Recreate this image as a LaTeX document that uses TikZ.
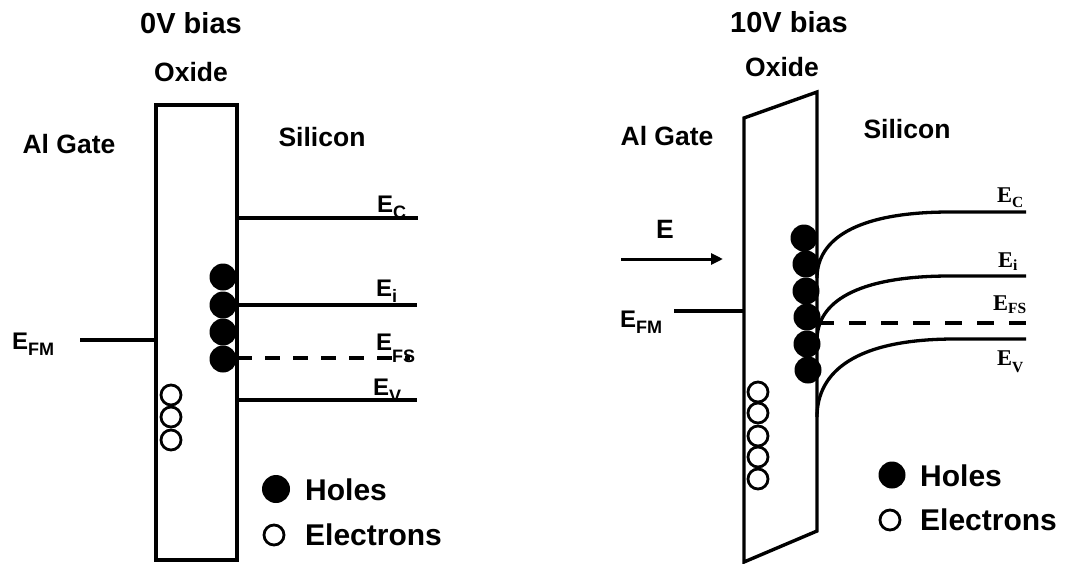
\documentclass[tikz,border=0pt]{standalone}
\usepackage{fontspec}
\setmainfont{Liberation Sans}
\newfontfamily\tnr{Liberation Serif}
\usetikzlibrary{arrows.meta}
\newcommand\esub[3]{E\raisebox{-#2pt}{\fontsize{#3}{#3}\selectfont #1}}
\begin{document}
\begin{tikzpicture}[x=1pt,y=-1pt,
  title/.style={font=\bfseries\fontsize{29}{30}\selectfont,anchor=base,inner sep=0},
  lbl/.style={font=\bfseries\fontsize{26.5}{28}\selectfont,anchor=base,inner sep=0},
  leg/.style={font=\bfseries\fontsize{30}{32}\selectfont,anchor=base west,inner sep=0},
  elbl/.style={font=\bfseries\fontsize{24}{26}\selectfont,anchor=base west,inner sep=0},
  tlbl/.style={font=\tnr\bfseries\fontsize{22.5}{24}\selectfont,anchor=base west,inner sep=0},
  oxide/.style={line width=4pt,line join=miter},
  level/.style={line width=3.3pt},
  hole/.style={fill=black,draw=none},
  electron/.style={draw=black,line width=2.8pt,fill=white}]
\useasboundingbox (0,0) rectangle (1066,563);
\fill[white] (0,0) rectangle (1066,563);

% ---------------- Left panel: 0V bias ----------------
\node[title] (t0) at (191,33) {0V bias};
\node[lbl] (ox0) at (191,81) {Oxide};
\node[lbl] (al0) at (69,153) {Al Gate};
\node[lbl] (si0) at (322,146) {Silicon};
\draw[oxide] (156,105) rectangle (237,560);
\draw[level] (237,218) -- (418,218);
\draw[level] (237,305) -- (417,305);
\draw[line width=4.5pt,dash pattern=on 15pt off 13pt] (237,358) -- (410,358);
\draw[level] (237,400) -- (417,400);
\draw[level] (80,340) -- (156,340);
\node[elbl] (ec0) at (377,212) {\esub{C}{6}{18}};
\node[elbl] (ei0) at (376,296) {\esub{i}{6}{18}};
\node[elbl] (efs0) at (376,350) {\esub{FS}{12}{18}};
\node[elbl] (ev0) at (373,395) {\esub{V}{7}{18}};
\node[elbl] (efm0) at (12,349) {\esub{FM}{6}{18}};
\foreach \y in {277,305,332,359} \fill[hole] (223,\y) circle[radius=13.5];
\foreach \y in {395,417,440} \draw[electron] (171,\y) circle[radius=10];
\fill[hole] (276,489) circle[radius=14];
\node[leg] (h0) at (305,500) {Holes};
\draw[electron] (274,535) circle[radius=10];
\node[leg] (e0) at (305,545) {Electrons};

% ---------------- Right panel: 10V bias ----------------
\node[title] (t1) at (789,32) {10V bias};
\node[lbl] (ox1) at (782,76) {Oxide};
\node[lbl] (al1) at (667,145) {Al Gate};
\node[lbl] (si1) at (907,138) {Silicon};
\draw[line width=3.4pt,line join=miter] (744,118) -- (817,92) -- (817,531) -- (744,562) -- cycle;
\node[lbl] (E1) at (665,238) {E};
\coordinate (a1) at (621,259);
\coordinate (a2) at (723,259);
\draw[line width=3pt,-{Triangle[length=12pt,width=11pt]}] (a1) -- (a2);
\draw[level] (674,311) -- (744,311);
\node[elbl] (efm1) at (620,327) {\esub{FM}{6}{18}};
\foreach \x/\y in {804/238,806/264,806/291,807/317,807/344,808/370} \fill[hole] (\x,\y) circle[radius=13.5];
\foreach \y in {392,413,436,457,479} \draw[electron] (758,\y) circle[radius=10];
\draw[level] (817,278) .. controls (817,240) and (855,212) .. (950,212) -- (1026,212);
\draw[level] (817,340) .. controls (817,303) and (855,276) .. (950,276) -- (1026,276);
\draw[level] (817,417) .. controls (817,372) and (855,339) .. (955,339) -- (1026,339);
\draw[line width=4pt,dash pattern=on 17pt off 15pt] (817,323) -- (1026,323);
\node[tlbl] (ec1) at (997,202) {\esub{C}{5}{15.5}};
\node[tlbl] (ei1) at (998,267) {\esub{i}{3}{15.5}};
\node[tlbl] (efs1) at (993,310) {\esub{FS}{3}{15.5}};
\node[tlbl] (ev1) at (997,365) {\esub{V}{7}{15.5}};
\fill[hole] (892,475) circle[radius=13.5];
\node[leg] (h1) at (920,486) {Holes};
\draw[electron] (890,520) circle[radius=10];
\node[leg] (e1) at (920,530) {Electrons};
\end{tikzpicture}
\end{document}
